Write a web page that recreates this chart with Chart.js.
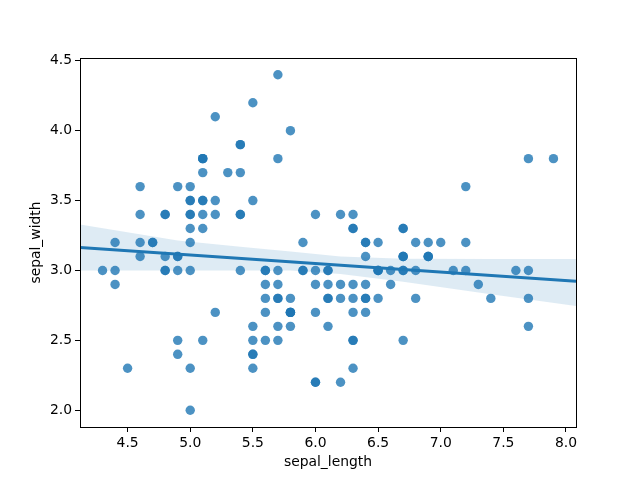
<!DOCTYPE html>
<html>
<head>
<meta charset="utf-8">
<script src="https://cdn.jsdelivr.net/npm/chart.js@4/dist/chart.umd.min.js"></script>
<style>
  html, body { margin: 0; padding: 0; background: #fff; }
  #wrap { width: 640px; height: 480px; }
</style>
</head>
<body>
<div id="wrap"><canvas id="chart" width="640" height="480"></canvas></div>
<script>
// iris: sepal length / sepal width, one entry per flower
const sepalLength = [
  5.1, 4.9, 4.7, 4.6, 5.0, 5.4, 4.6, 5.0, 4.4, 4.9, 5.4, 4.8, 4.8, 4.3, 5.8, 5.7, 5.4, 5.1, 5.7, 5.1,
  5.4, 5.1, 4.6, 5.1, 4.8, 5.0, 5.0, 5.2, 5.2, 4.7, 4.8, 5.4, 5.2, 5.5, 4.9, 5.0, 5.5, 4.9, 4.4, 5.1,
  5.0, 4.5, 4.4, 5.0, 5.1, 4.8, 5.1, 4.6, 5.3, 5.0,
  7.0, 6.4, 6.9, 5.5, 6.5, 5.7, 6.3, 4.9, 6.6, 5.2, 5.0, 5.9, 6.0, 6.1, 5.6, 6.7, 5.6, 5.8, 6.2, 5.6,
  5.9, 6.1, 6.3, 6.1, 6.4, 6.6, 6.8, 6.7, 6.0, 5.7, 5.5, 5.5, 5.8, 6.0, 5.4, 6.0, 6.7, 6.3, 5.6, 5.5,
  5.5, 6.1, 5.8, 5.0, 5.6, 5.7, 5.7, 6.2, 5.1, 5.7,
  6.3, 5.8, 7.1, 6.3, 6.5, 7.6, 4.9, 7.3, 6.7, 7.2, 6.5, 6.4, 6.8, 5.7, 5.8, 6.4, 6.5, 7.7, 7.7, 6.0,
  6.9, 5.6, 7.7, 6.3, 6.7, 7.2, 6.2, 6.1, 6.4, 7.2, 7.4, 7.9, 6.4, 6.3, 6.1, 7.7, 6.3, 6.4, 6.0, 6.9,
  6.7, 6.9, 5.8, 6.8, 6.7, 6.7, 6.3, 6.5, 6.2, 5.9
];
const sepalWidth = [
  3.5, 3.0, 3.2, 3.1, 3.6, 3.9, 3.4, 3.4, 2.9, 3.1, 3.7, 3.4, 3.0, 3.0, 4.0, 4.4, 3.9, 3.5, 3.8, 3.8,
  3.4, 3.7, 3.6, 3.3, 3.4, 3.0, 3.4, 3.5, 3.4, 3.2, 3.1, 3.4, 4.1, 4.2, 3.1, 3.2, 3.5, 3.6, 3.0, 3.4,
  3.5, 2.3, 3.2, 3.5, 3.8, 3.0, 3.8, 3.2, 3.7, 3.3,
  3.2, 3.2, 3.1, 2.3, 2.8, 2.8, 3.3, 2.4, 2.9, 2.7, 2.0, 3.0, 2.2, 2.9, 2.9, 3.1, 3.0, 2.7, 2.2, 2.5,
  3.2, 2.8, 2.5, 2.8, 2.9, 3.0, 2.8, 3.0, 2.9, 2.6, 2.4, 2.4, 2.7, 2.7, 3.0, 3.4, 3.1, 2.3, 3.0, 2.5,
  2.6, 3.0, 2.6, 2.3, 2.7, 3.0, 2.9, 2.9, 2.5, 2.8,
  3.3, 2.7, 3.0, 2.9, 3.0, 3.0, 2.5, 2.9, 2.5, 3.6, 3.2, 2.7, 3.0, 2.5, 2.8, 3.2, 3.0, 3.8, 2.6, 2.2,
  3.2, 2.8, 2.8, 2.7, 3.3, 3.2, 2.8, 3.0, 2.8, 3.0, 2.8, 3.8, 2.8, 2.8, 2.6, 3.0, 3.4, 3.1, 3.0, 3.1,
  3.1, 3.1, 2.7, 3.2, 3.3, 3.0, 2.5, 3.0, 3.4, 3.0
];

// fitted line at the axis edges
const fitX = [4.12, 8.08];
const fitY = [3.164, 2.922];

// confidence band
const bandX = [4.12, 4.9, 5.4, 5.8, 6.2, 6.7, 7.4, 8.08];
const bandUpper = [3.329, 3.215, 3.17, 3.135, 3.10, 3.083, 3.082, 3.082];
const bandLower = [3.0, 3.0, 3.0, 3.0, 2.975, 2.92, 2.83, 2.745];

const xTicks = [4.5, 5.0, 5.5, 6.0, 6.5, 7.0, 7.5, 8.0];
const yTicks = [2.0, 2.5, 3.0, 3.5, 4.0, 4.5];
const xRange = [4.12, 8.08];
const yRange = [1.88, 4.52];

const blue = '31, 119, 180';
const font = { family: 'DejaVu Sans', size: 13.9 };

const pts = (xs, ys) => xs.map((x, i) => ({ x, y: ys[i] }));

// matplotlib-style closed box around the plot area
const frame = {
    id: 'frame',
    afterDraw(chart) {
        const { ctx, chartArea: a } = chart;
        ctx.save();
        ctx.strokeStyle = '#000';
        ctx.lineWidth = 1;
        ctx.strokeRect(Math.round(a.left) + 0.5, Math.round(a.top) + 0.5,
            Math.round(a.right - a.left), Math.round(a.bottom - a.top));
        ctx.restore();
    }
};

const axisCommon = (ticks, range) => ({
    type: 'linear',
    min: range[0],
    max: range[1],
    afterBuildTicks: s => { s.ticks = ticks.map(v => ({ value: v })); },
    ticks: {
        color: '#000',
        font,
        padding: 3,
        autoSkip: false,
        maxRotation: 0,
        callback: v => Number(v).toFixed(1)
    },
    grid: { drawOnChartArea: false, drawTicks: true, tickLength: 5, color: '#000' },
    border: { display: true, color: '#000', width: 1 }
});

new Chart(document.getElementById('chart'), {
    type: 'scatter',
    data: {
        datasets: [
            {
                label: 'ci-upper',
                data: pts(bandX, bandUpper),
                showLine: true,
                borderWidth: 0,
                pointRadius: 0,
                fill: '+1',
                backgroundColor: `rgba(${blue}, 0.15)`,
                order: 3
            },
            {
                label: 'ci-lower',
                data: pts(bandX, bandLower),
                showLine: true,
                borderWidth: 0,
                pointRadius: 0,
                fill: false,
                order: 3
            },
            {
                label: 'points',
                data: pts(sepalLength, sepalWidth),
                pointRadius: 4.7,
                pointBorderWidth: 0,
                backgroundColor: `rgba(${blue}, 0.8)`,
                borderColor: 'transparent',
                order: 2
            },
            {
                label: 'fit',
                data: pts(fitX, fitY),
                showLine: true,
                borderColor: `rgb(${blue})`,
                borderWidth: 3,
                pointRadius: 0,
                order: 1
            }
        ]
    },
    options: {
        responsive: false,
        animation: false,
        devicePixelRatio: 1,
        layout: { padding: { left: 0, top: 58, right: 64, bottom: 0 } },
        plugins: {
            legend: { display: false },
            tooltip: { enabled: false }
        },
        scales: {
            x: {
                ...axisCommon(xTicks, xRange),
                afterFit: s => { s.height = 53; },
                title: { display: true, text: 'sepal_length', color: '#000', font, padding: { top: 0, bottom: 9 } }
            },
            y: {
                ...axisCommon(yTicks, yRange),
                afterFit: s => { s.width = 80; },
                title: { display: true, text: 'sepal_width', color: '#000', font, padding: { top: 28, bottom: 0 } }
            }
        }
    },
    plugins: [frame]
});
</script>
</body>
</html>
